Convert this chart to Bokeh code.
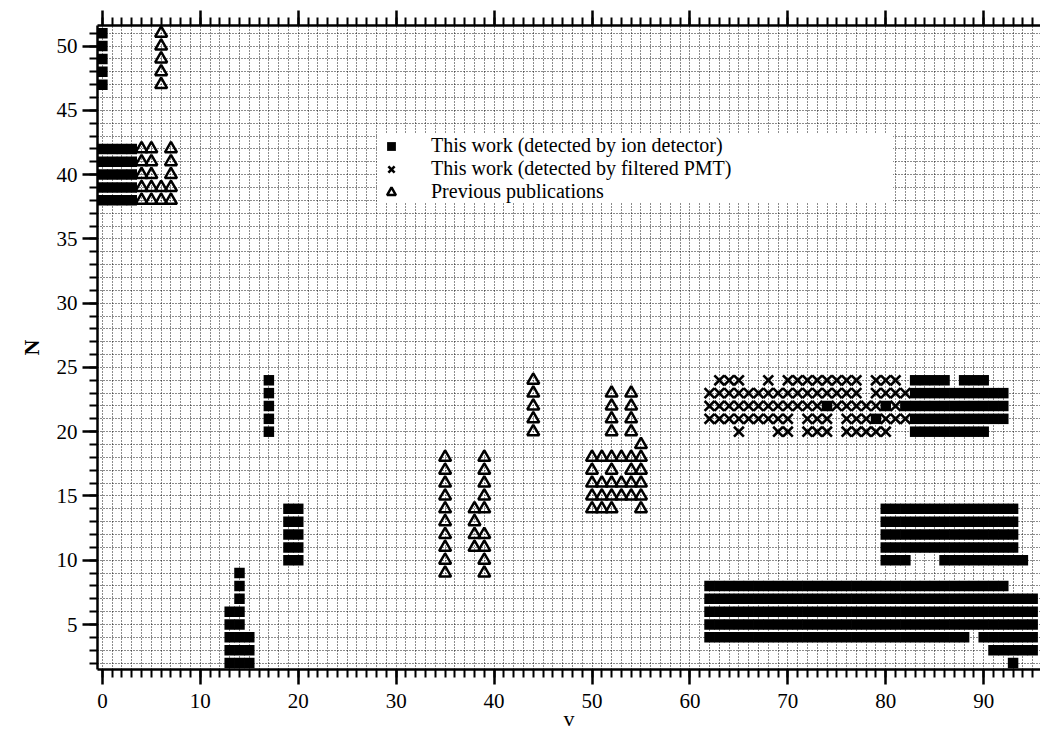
from bokeh.plotting import figure
from bokeh.models import (LinearAxis, SingleIntervalTicker, Range1d, Legend, LegendItem,
                          CustomJSTickFormatter)
from bokeh.embed import file_html
from bokeh.resources import INLINE

# ---------------- data ----------------
# filled squares: horizontal runs (N, first v, last v)
sq_n  = [51, 50, 49, 48, 47, 42, 41, 40, 39, 38, 24, 23, 22, 21, 20,
         14, 13, 12, 11, 10, 9, 8, 7, 6, 5, 4, 3, 2,
         24, 24, 23, 22, 22, 22, 21, 21, 20,
         14, 13, 12, 11, 10, 10,
         8, 7, 6, 5, 4, 4, 3, 2]
sq_v0 = [0, 0, 0, 0, 0, 0, 0, 0, 0, 0, 17, 17, 17, 17, 17,
         19, 19, 19, 19, 19, 14, 14, 14, 13, 13, 13, 13, 13,
         83, 88, 83, 74, 80, 82, 79, 83, 83,
         80, 80, 80, 80, 80, 86,
         62, 62, 62, 62, 62, 90, 91, 93]
sq_v1 = [0, 0, 0, 0, 0, 3, 3, 3, 3, 3, 17, 17, 17, 17, 17,
         20, 20, 20, 20, 20, 14, 14, 14, 14, 14, 15, 15, 15,
         86, 90, 92, 74, 80, 92, 79, 92, 90,
         93, 93, 93, 93, 82, 94,
         92, 95, 95, 95, 88, 95, 95, 93]

# crosses: horizontal runs (N, first v, last v)
cx_n  = [24, 24, 24, 24, 23, 23, 22, 22, 22, 21, 21, 21, 21, 20, 20, 20, 20]
cx_v0 = [63, 68, 70, 79, 62, 79, 62, 75, 81, 62, 72, 76, 80, 65, 69, 72, 76]
cx_v1 = [65, 68, 77, 81, 77, 82, 73, 79, 81, 70, 74, 78, 82, 65, 70, 74, 80]

# triangles: horizontal runs (N, first v, last v)
trh_n  = [42, 42, 41, 41, 40, 40, 39, 38, 18, 17, 17, 17, 16, 15, 14, 14]
trh_v0 = [4, 7, 4, 7, 4, 7, 4, 4, 50, 50, 52, 54, 50, 50, 50, 55]
trh_v1 = [5, 7, 5, 7, 5, 7, 7, 7, 55, 50, 52, 55, 55, 55, 52, 55]
# triangles: vertical runs (v, first N, last N)
trv_v  = [6, 35, 38, 39, 39, 44, 52, 54, 55]
trv_n0 = [47, 9, 11, 9, 14, 20, 20, 20, 19]
trv_n1 = [51, 18, 14, 12, 18, 24, 23, 23, 19]

labels = ["This work (detected by ion detector)",
          "This work (detected by filtered PMT)",
          "Previous publications"]


def cells_from_rows(ns, v0s, v1s):
    xs, ys = [], []
    for n, a, b in zip(ns, v0s, v1s):
        for v in range(a, b + 1):
            xs.append(v)
            ys.append(n)
    return xs, ys


def cells_from_cols(vs, n0s, n1s):
    xs, ys = [], []
    for v, a, b in zip(vs, n0s, n1s):
        for n in range(a, b + 1):
            xs.append(v)
            ys.append(n)
    return xs, ys


sq_x, sq_y = cells_from_rows(sq_n, sq_v0, sq_v1)
cx_x, cx_y = cells_from_rows(cx_n, cx_v0, cx_v1)
t1x, t1y = cells_from_rows(trh_n, trh_v0, trh_v1)
t2x, t2y = cells_from_cols(trv_v, trv_n0, trv_n1)
tr_x, tr_y = t1x + t2x, t1y + t2y

# ---------------- figure ----------------
SERIF = "Liberation Serif"

p = figure(width=1040, height=735,
           x_range=Range1d(-0.5, 95.8), y_range=Range1d(1.5, 51.6),
           output_backend="svg", toolbar_location=None,
           min_border_left=97, min_border_right=0,
           min_border_top=25, min_border_bottom=66,
           x_axis_label="v", y_axis_label="N")
p.outline_line_color = None
p.background_fill_color = "white"
p.border_fill_color = "white"

top = LinearAxis(formatter=CustomJSTickFormatter(code="return ''"))
p.add_layout(top, "above")

p.xaxis.ticker = SingleIntervalTicker(interval=10, num_minor_ticks=10)
p.yaxis.ticker = SingleIntervalTicker(interval=5, num_minor_ticks=5)

for ax in list(p.xaxis) + list(p.yaxis):
    ax.axis_line_width = 2.5
    ax.axis_line_color = "black"
    ax.major_tick_line_width = 2.5
    ax.minor_tick_line_width = 2
    ax.major_tick_in = 0
    ax.minor_tick_in = 0
    ax.major_tick_out = 15
    ax.minor_tick_out = 8
    ax.major_label_text_font = SERIF
    ax.major_label_text_font_size = "21px"
    ax.major_label_text_color = "black"
    ax.axis_label_text_font = SERIF
    ax.axis_label_text_font_size = "22px"
    ax.axis_label_text_font_style = "normal"
    ax.axis_label_text_color = "black"

top.major_label_standoff = 0
p.below[0].major_label_standoff = 9
p.below[0].axis_label_standoff = -5
p.left[0].major_label_standoff = 5
p.left[0].axis_label_standoff = 10
p.left[0].axis_label_text_font_style = "bold"

for g in (p.xgrid[0], p.ygrid[0]):
    g.ticker = SingleIntervalTicker(interval=1)
    g.grid_line_color = "black"
    g.grid_line_dash = "1 2"
    g.grid_line_width = 1
    g.grid_line_alpha = 0.9

r_cx = p.scatter(x=cx_x, y=cx_y, marker="x", size=14, line_width=2.6,
                 line_color="black")
r_sq = p.scatter(x=sq_x, y=sq_y, marker="square", size=10.5,
                 fill_color="black", line_color=None)
r_tr = p.scatter(x=tr_x, y=tr_y, marker="triangle", size=12, line_width=2.5,
                 line_color="black", fill_color=None)

legend = Legend(items=[LegendItem(label=labels[0], renderers=[r_sq]),
                       LegendItem(label=labels[1], renderers=[r_cx]),
                       LegendItem(label=labels[2], renderers=[r_tr])],
                location=(280, 466), margin=0, padding=5, spacing=0,
                glyph_width=28, glyph_height=22, label_height=20,
                label_standoff=26, label_width=462,
                label_text_font=SERIF, label_text_font_size="20px",
                label_text_color="black",
                border_line_color=None, background_fill_color="white",
                background_fill_alpha=1.0)
p.add_layout(legend)

open("out.html", "w").write(file_html(p, INLINE))
